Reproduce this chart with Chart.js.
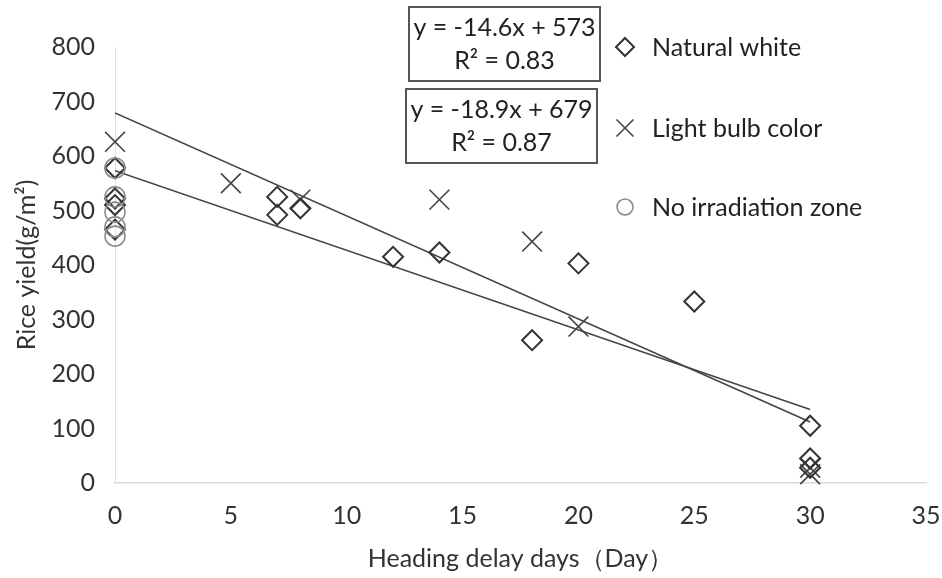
<!DOCTYPE html>
<html>
<head>
<meta charset="utf-8">
<script src="https://cdn.jsdelivr.net/npm/chart.js@4.4.1/dist/chart.umd.min.js"></script>
<style>
  html, body { margin: 0; padding: 0; background: #fff; }
  #wrap { position: relative; width: 942px; height: 578px; }
</style>
</head>
<body>
<div id="wrap"><canvas id="yieldChart" width="942" height="578"></canvas></div>
<script>
// Natural white (diamonds)
const whiteX = [0, 0, 0, 0, 7, 7, 8, 12, 14, 18, 20, 25, 30, 30, 30];
const whiteY = [578, 522, 510, 465, 525, 492, 504, 415, 423, 262, 403, 333, 105, 45, 28];

// Light bulb color (crosses)
const bulbX = [0, 5, 8, 14, 18, 20, 30, 30];
const bulbY = [626, 550, 520, 520, 443, 287, 28, 16];

// No irradiation zone (circles)
const noneX = [0, 0, 0, 0, 0];
const noneY = [578, 525, 497, 470, 453];

// Regression lines
const trendSlope = [-14.6, -18.9];
const trendIntercept = [573, 679];
const trendRange = [0, 30];
const trendLabels = [["y = -14.6x + 573", "R² = 0.83"], ["y = -18.9x + 679", "R² = 0.87"]];

const legendLabels = ["Natural white", "Light bulb color", "No irradiation zone"];
const xTicks = [0, 5, 10, 15, 20, 25, 30, 35];
const yTicks = [0, 100, 200, 300, 400, 500, 600, 700, 800];

const FONT = "Lato, 'Open Sans', sans-serif";
const FSIZE = 25;
const toPts = (xs, ys) => xs.map((x, i) => ({ x, y: ys[i] }));
const trendPts = k => trendRange.map(x => ({ x, y: trendSlope[k] * x + trendIntercept[k] }));

const styles = [
    { pointStyle: "rectRot",  color: "#333333", width: 2,   radius: 10, legR: 9 },
    { pointStyle: "crossRot", color: "#444444", width: 1.6, radius: 14, legR: 12 },
    { pointStyle: "circle",   color: "#8c8c8c", width: 1.6, radius: 10, legR: 8 }
];

// equation boxes + legend drawn over the plot area
const overlay = {
    id: "overlay",
    afterDraw(chart) {
        const ctx = chart.ctx;
        ctx.save();
        const boxes = [[409, 7, 191, 74], [406, 89, 191, 74]];
        boxes.forEach((b, k) => {
            ctx.fillStyle = "#fff";
            ctx.fillRect(b[0], b[1], b[2], b[3]);
            ctx.strokeStyle = "#555";
            ctx.lineWidth = 2;
            ctx.strokeRect(b[0], b[1], b[2], b[3]);
            ctx.fillStyle = "#222";
            ctx.font = FSIZE + "px " + FONT;
            ctx.textAlign = "center";
            ctx.textBaseline = "middle";
            ctx.fillText(trendLabels[k][0], b[0] + b[2] / 2, b[1] + 21);
            ctx.fillText(trendLabels[k][1], b[0] + b[2] / 2, b[1] + 54);
        });
        const rows = [47, 128, 207];
        legendLabels.forEach((lab, i) => {
            const s = styles[i];
            ctx.strokeStyle = s.color;
            ctx.fillStyle = "rgba(0,0,0,0)";
            ctx.lineWidth = s.width;
            Chart.helpers.drawPoint(ctx, { pointStyle: s.pointStyle, radius: s.legR, borderWidth: s.width }, 625, rows[i]);
            ctx.fillStyle = "#222";
            ctx.font = FSIZE + "px " + FONT;
            ctx.textAlign = "left";
            ctx.textBaseline = "middle";
            ctx.fillText(lab, 652, rows[i] + 1);
        });
        ctx.restore();
    }
};

const scatterSet = (label, data, s) => ({
    type: "scatter",
    label,
    data,
    clip: false,
    pointStyle: s.pointStyle,
    pointRadius: s.radius,
    pointHoverRadius: s.radius,
    pointBorderColor: s.color,
    pointBackgroundColor: "rgba(0,0,0,0)",
    pointBorderWidth: s.width,
    showLine: false
});

const trendSet = k => ({
    type: "line",
    label: "trend" + k,
    data: trendPts(k),
    borderColor: "#444",
    borderWidth: 1.6,
    pointRadius: 0,
    fill: false
});

new Chart(document.getElementById("yieldChart"), {
    data: {
        datasets: [
            scatterSet(legendLabels[2], toPts(noneX, noneY), styles[2]),
            scatterSet(legendLabels[0], toPts(whiteX, whiteY), styles[0]),
            scatterSet(legendLabels[1], toPts(bulbX, bulbY), styles[1]),
            trendSet(0),
            trendSet(1)
        ]
    },
    options: {
        responsive: false,
        animation: false,
        layout: { padding: { top: 47, right: 16, left: 8, bottom: 0 } },
        plugins: { legend: { display: false }, tooltip: { enabled: false } },
        scales: {
            x: {
                type: "linear",
                min: 0, max: 35,
                afterBuildTicks: s => { s.ticks = xTicks.map(v => ({ value: v })); },
                afterFit: s => { s.height = 578 - 483; s.paddingRight = 0; s.paddingLeft = 0; },
                grid: { display: false },
                border: { display: true, color: "#d9d9d9", width: 1.5 },
                ticks: { color: "#333", font: { family: FONT, size: FSIZE }, padding: 10 },
                title: { display: true, text: "Heading delay days（Day）", color: "#333", font: { family: FONT, size: FSIZE }, padding: { top: 1 } }
            },
            y: {
                min: 0, max: 800,
                afterBuildTicks: s => { s.ticks = yTicks.map(v => ({ value: v })); },
                afterFit: s => { s.width = 107; },
                grid: { display: false },
                border: { display: true, color: "#e0e0e0", width: 1 },
                ticks: { color: "#333", font: { family: FONT, size: FSIZE }, padding: 12 },
                title: { display: true, text: "Rice yield(g/m²)", color: "#333", font: { family: FONT, size: FSIZE }, padding: { bottom: 0 } }
            }
        }
    },
    plugins: [overlay]
});
</script>
</body>
</html>
